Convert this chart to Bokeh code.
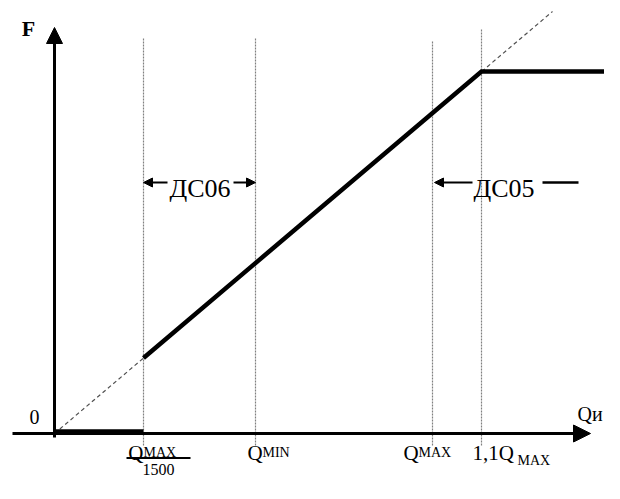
from bokeh.plotting import figure
from bokeh.models import Range1d, Arrow, NormalHead
from bokeh.core.properties import value
from bokeh.embed import file_html
from bokeh.resources import INLINE

# ---- data (schematic units) ----
q_marks = [0.89, 2.01, 3.78, 4.27]          # Qmax/1500, Qmin, Qmax, 1.1Qmax
guide_top = [3.96, 3.96, 3.92, 4.05]
guide_bottom = -0.12
ideal_q = [0.0, 4.98]                        # proportional (dashed) line
ideal_f = [0.0, 4.22]
char_q = [0.89, 4.27, 5.70]                  # output characteristic
char_f = [0.755, 3.62, 3.62]
low_q = [0.0, 0.89]                          # below Qmax/1500
low_f = [0.02, 0.02]
x_axis_span = [-0.42, 5.36]
y_axis_span = [-0.04, 4.06]

FONT = value("Liberation Serif")

p = figure(width=604, height=483, x_range=Range1d(-0.54, 5.50), y_range=Range1d(-0.50, 4.33),
           output_backend="svg", toolbar_location=None,
           x_axis_location=None, y_axis_location=None,
           min_border=0, outline_line_color=None, background_fill_color="white")
p.grid.visible = False

# guide lines
p.segment(x0=q_marks, y0=[guide_bottom] * 4, x1=q_marks, y1=guide_top,
          line_color="#808080", line_width=1.2, line_dash="2 1")

# dashed proportional line
p.line(ideal_q, ideal_f, line_color="#505050", line_width=1.2, line_dash="4 3")

# axes with arrows
p.add_layout(Arrow(end=NormalHead(size=17, fill_color="black", line_color="black"),
                   x_start=x_axis_span[0], y_start=0, x_end=x_axis_span[1], y_end=0,
                   line_width=3, line_color="black"))
p.add_layout(Arrow(end=NormalHead(size=16, fill_color="black", line_color="black"),
                   x_start=0, y_start=y_axis_span[0], x_end=0, y_end=y_axis_span[1],
                   line_width=3, line_color="black"))

# characteristic
p.line(low_q, low_f, line_color="black", line_width=4.5)
p.line(char_q, char_f, line_color="black", line_width=4.5, line_join="miter")


def txt(x, y, s, size, align="left", baseline="alphabetic", style="normal"):
    p.text(x=[x], y=[y], text=[s], text_font=FONT, text_font_size=value(size),
           text_align=align, text_baseline=baseline, text_color="black",
           text_font_style=style)


# axis labels
txt(-0.26, 4.05, "F", "22px", align="center", baseline="middle", style="bold")
txt(-0.20, 0.17, "0", "20px", align="center", baseline="middle")
txt(5.23, 0.20, "Qи", "20px")

# tick labels
base = -0.19
txt(q_marks[0], base, "Q", "21px", align="right")
txt(q_marks[0], base, "MAX", "14px")
p.segment(x0=[q_marks[0] - 0.17], y0=[-0.245], x1=[q_marks[0] + 0.47], y1=[-0.245],
          line_color="black", line_width=2)
txt(q_marks[0] + 0.15, -0.36, "1500", "16px", align="center")

txt(q_marks[1] - 0.08, base, "Q", "21px")
txt(q_marks[1] + 0.07, base, "MIN", "14px")

txt(q_marks[2] - 0.29, base, "Q", "21px")
txt(q_marks[2] - 0.14, base, "MAX", "14px")

txt(q_marks[3] - 0.09, base, "1,1Q", "21px")
txt(q_marks[3] + 0.36, base - 0.08, "MAX", "14px")

# range labels
y_lab = 2.51
txt(1.15, 2.45, "ДС06", "26px")
txt(4.19, 2.45, "ДС05", "26px")
for xs, xe in [(1.13, q_marks[0]), (1.79, q_marks[1]), (4.18, q_marks[2] + 0.02)]:
    p.add_layout(Arrow(end=NormalHead(size=9, fill_color="black", line_color="black"),
                       x_start=xs, y_start=y_lab, x_end=xe, y_end=y_lab,
                       line_width=2, line_color="black"))
p.segment(x0=[4.88], y0=[y_lab], x1=[5.24], y1=[y_lab], line_color="black", line_width=2.5)

open("out.html", "w").write(file_html(p, INLINE))
